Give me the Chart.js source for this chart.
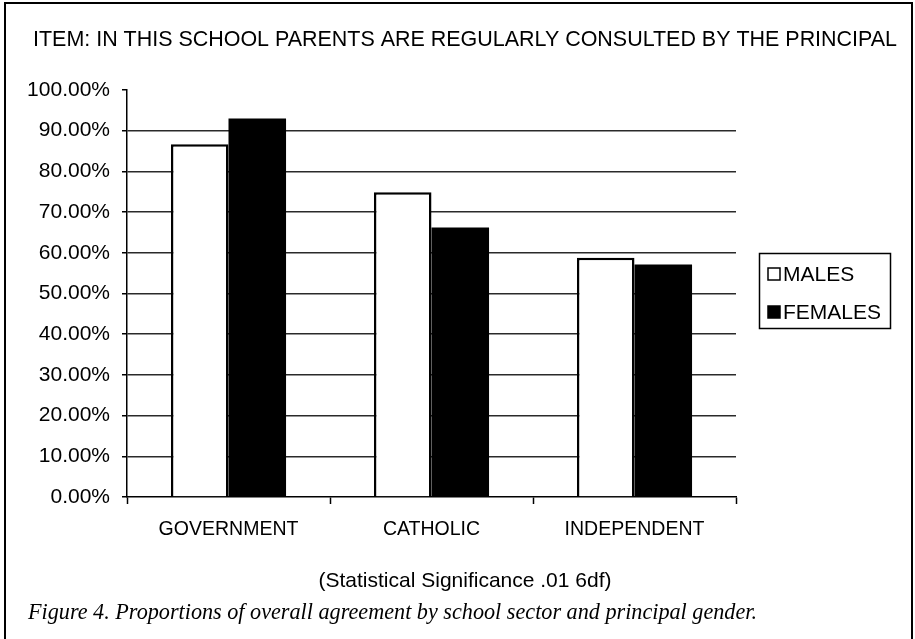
<!DOCTYPE html>
<html lang="en">
  <head>
    <meta charset="UTF-8" />
    <title>Parents regularly consulted by the principal</title>
    <script src="https://cdn.jsdelivr.net/npm/chart.js"></script>
    <style>
      html, body { margin: 0; padding: 0; background: #fff; }
      #wrap { width: 915px; height: 639px; }
    </style>
  </head>
  <body>
    <div id="wrap"><canvas id="sectorChart" width="915" height="639"></canvas></div>
    <script>
      const sectors = ["GOVERNMENT", "CATHOLIC", "INDEPENDENT"];
      const males = [86.7, 74.9, 58.8];
      const females = [93.0, 66.2, 57.1];
      const yTicks = [0, 10, 20, 30, 40, 50, 60, 70, 80, 90, 100];

      const titleText = "ITEM: IN THIS SCHOOL PARENTS ARE REGULARLY CONSULTED BY THE PRINCIPAL";
      const noteText = "(Statistical Significance .01 6df)";
      const captionText = "Figure 4. Proportions of overall agreement by school sector and principal gender.";

      const sans = "'Liberation Sans', Arial, sans-serif";
      const serif = "'Liberation Serif', 'Times New Roman', serif";

      // frame, headings and the boxed legend
      const decorations = {
        id: "decorations",
        afterDraw(chart) {
          const ctx = chart.ctx;
          ctx.save();
          ctx.strokeStyle = "#000";
          ctx.lineWidth = 2;
          ctx.beginPath();
          ctx.moveTo(5, 639);
          ctx.lineTo(5, 3);
          ctx.lineTo(912, 3);
          ctx.lineTo(912, 639);
          ctx.stroke();

          ctx.fillStyle = "#000";
          ctx.textBaseline = "middle";
          ctx.textAlign = "left";
          ctx.font = "21.5px " + sans;
          ctx.fillText(titleText, 33, 40, 864);

          ctx.textAlign = "center";
          ctx.font = "21px " + sans;
          ctx.fillText(noteText, 465, 581, 294);

          ctx.textAlign = "left";
          ctx.font = "italic 22.2px " + serif;
          ctx.fillText(captionText, 28, 613, 730);

          // legend
          ctx.lineWidth = 1.5;
          ctx.strokeRect(759.5, 253.5, 131, 75);
          ctx.font = "21px " + sans;
          chart.data.datasets.forEach((ds, i) => {
            const y = 274 + i * 38;
            ctx.fillStyle = ds.backgroundColor;
            ctx.fillRect(768, y - 6, 12, 12);
            ctx.strokeStyle = "#000";
            ctx.lineWidth = 1.5;
            ctx.strokeRect(768, y - 6, 12, 12);
            ctx.fillStyle = "#000";
            ctx.fillText(ds.label, 783, y + 1);
          });
          ctx.restore();
        },
      };

      new Chart(document.getElementById("sectorChart"), {
        type: "bar",
        data: {
          labels: sectors,
          datasets: [
            {
              label: "MALES",
              data: males,
              backgroundColor: "#ffffff",
              borderColor: "#000",
              borderWidth: 2.5,
            },
            {
              label: "FEMALES",
              data: females,
              backgroundColor: "#000000",
              borderColor: "#000",
              borderWidth: 0,
            },
          ],
        },
        options: {
          responsive: false,
          animation: false,
          categoryPercentage: 0.567,
          barPercentage: 1.0,
          layout: { padding: { top: 90, right: 179, bottom: 0, left: 0 } },
          plugins: {
            legend: { display: false },
            tooltip: { enabled: false },
          },
          scales: {
            x: {
              afterFit(scale) { scale.height = 142; },
              grid: {
                offset: true,
                drawOnChartArea: false,
                tickLength: 7,
                tickColor: "#000",
                tickWidth: 1.5,
              },
              border: { color: "#000", width: 1.5 },
              ticks: {
                color: "#000",
                padding: 14,
                font: { family: sans, size: 19.5 },
              },
            },
            y: {
              min: 0,
              max: 100,
              afterFit(scale) { scale.width = 127; },
              afterBuildTicks(scale) {
                scale.ticks = yTicks.map((v) => ({ value: v }));
              },
              grid: {
                color: (c) =>
                  c.tick && (c.tick.value === 0 || c.tick.value === 100)
                    ? "rgba(0,0,0,0)"
                    : "#2a2a2a",
                lineWidth: 1.5,
                tickLength: 5,
                tickColor: "#000",
                tickWidth: 1.5,
              },
              border: { color: "#000", width: 1.5 },
              ticks: {
                color: "#000",
                padding: 12,
                font: { family: sans, size: 21 },
                callback: (v) => v.toFixed(2) + "%",
              },
            },
          },
        },
        plugins: [decorations],
      });
    </script>
  </body>
</html>
